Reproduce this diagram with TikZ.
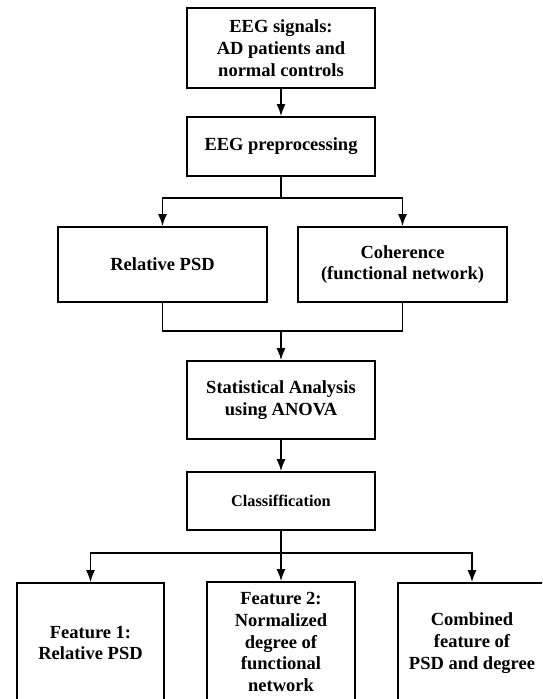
\documentclass[tikz,border=0pt]{standalone}
\usepackage{fontspec}
\setmainfont{Liberation Serif}
\usetikzlibrary{arrows.meta}

\tikzset{
  stepbox/.style={draw, line width=1.7pt, align=center, inner sep=2pt,
    font=\fontsize{18.5}{21.7}\selectfont\bfseries},
  arr/.style={line width=1.7pt, -{Latex[length=12pt,width=9pt]}},
  lin/.style={line width=1.7pt}
}

\begin{document}
\begin{tikzpicture}[x=1pt, y=-1pt]

                \useasboundingbox (0,0) rectangle (542,699);
                \clip (0,0) rectangle (542,699);

                \node[stepbox, minimum width=188, minimum height=80] (sig) at (281,48) {EEG signals:\\AD patients and\\normal controls};
                \node[stepbox, minimum width=188, minimum height=59] (prep) at (281,146.5) {EEG preprocessing};
                \node[stepbox, minimum width=209, minimum height=75] (rpsd) at (162.5,264.5) {Relative PSD};
                \node[stepbox, minimum width=209, minimum height=75] (coh) at (402.5,264.5) {Coherence\\(functional network)};
                \node[stepbox, minimum width=188, minimum height=78] (stat) at (281,400) {Statistical Analysis\\using ANOVA};
                \node[stepbox, minimum width=188, minimum height=58, font=\fontsize{16.3}{20}\selectfont\bfseries] (cls) at (281,501) {Classiffication};
                \node[stepbox, minimum width=147, minimum height=120] (fa) at (90.5,643) {Feature 1:\\Relative PSD};
                \node[stepbox, minimum width=148, minimum height=120] (fb) at (281,642) {Feature 2:\\Normalized\\degree of\\functional\\network};
                \node[stepbox, minimum width=148, minimum height=120] (fc) at (472,643) {Combined\\feature of\\PSD and degree};

                \coordinate (split1) at (281,198);
                \coordinate (merge) at (281,331);
                \coordinate (split2) at (281,553);

                \draw[arr] (sig) -- (prep);
                \draw[lin] (prep) -- (split1);
                \draw[arr] (split1) -| (rpsd);
                \draw[arr] (split1) -| (coh);
                \draw[lin] (rpsd) |- (merge) -| (coh);
                \draw[arr] (merge) -- (stat);
                \draw[arr] (stat) -- (cls);
                \draw[lin] (cls) -- (split2);
                \draw[arr] (split2) -| (fa);
                \draw[arr] (split2) -- (fb);
                \draw[arr] (split2) -| (fc);

\end{tikzpicture}
\end{document}
